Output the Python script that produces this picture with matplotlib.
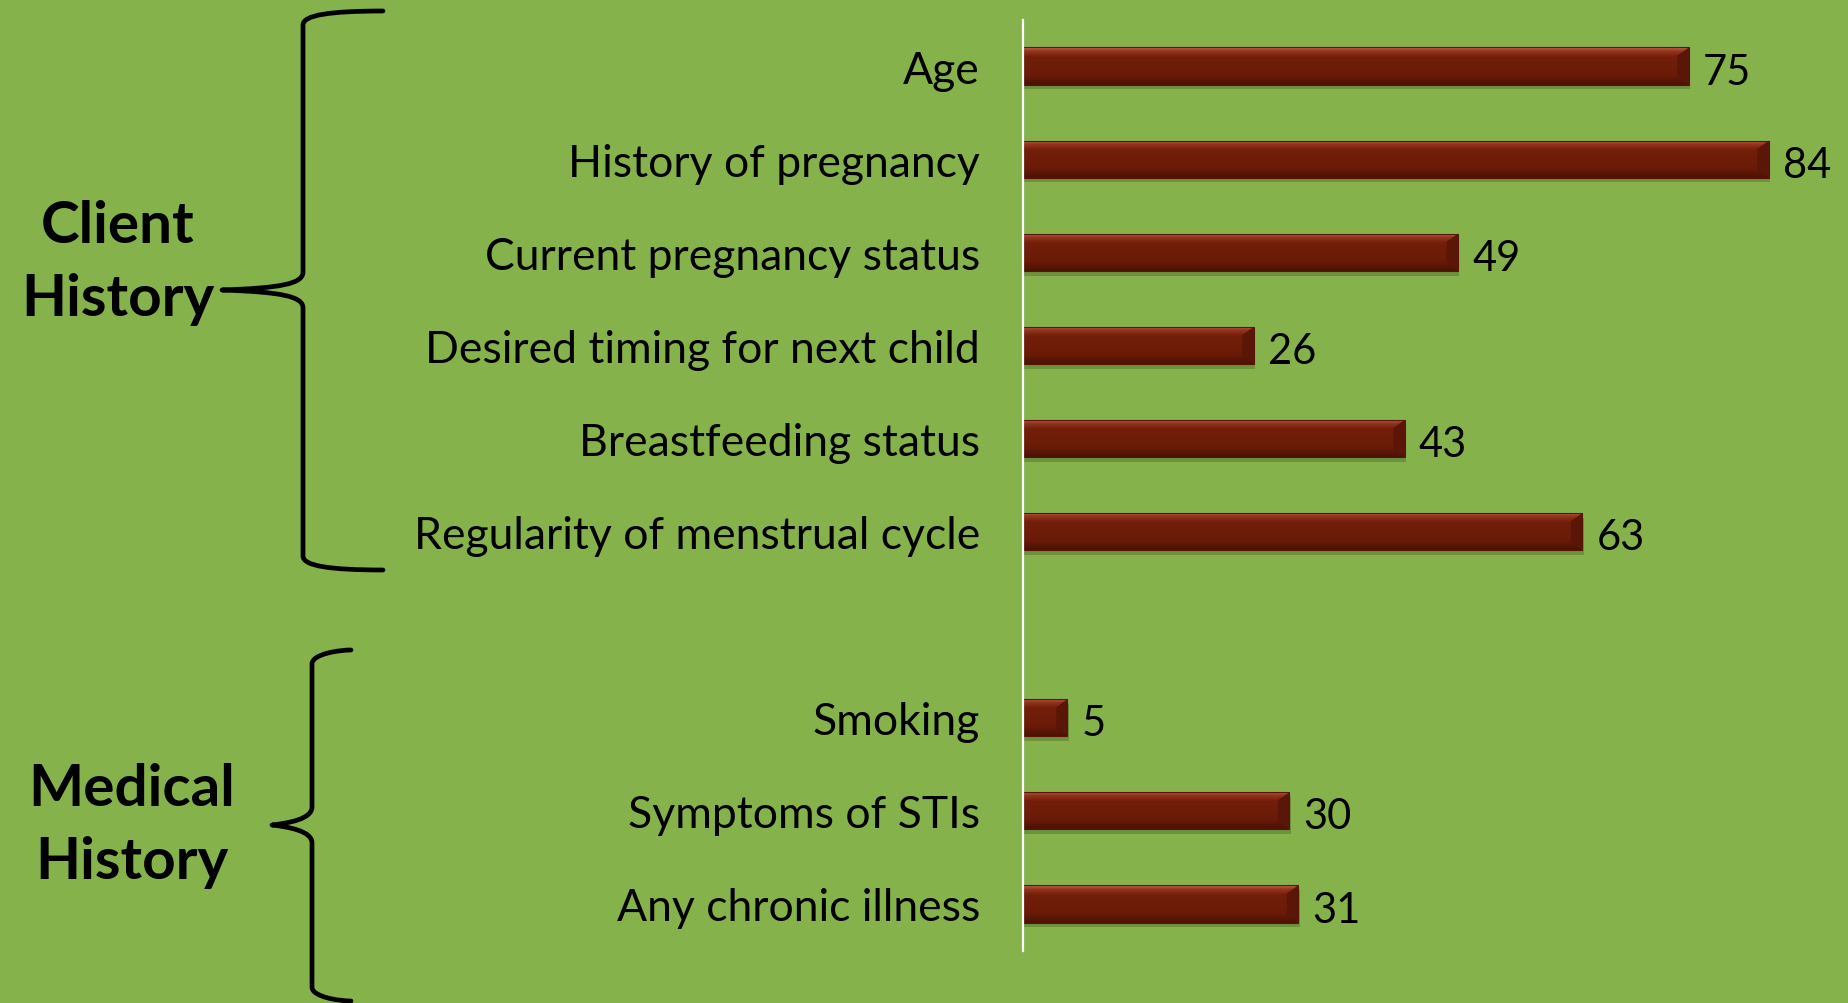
import numpy as np
import matplotlib
matplotlib.use("Agg")
import matplotlib.pyplot as plt
from matplotlib.path import Path
from matplotlib.patches import PathPatch, Polygon, Rectangle
from matplotlib.colors import LinearSegmentedColormap

# ---- data ----
client_labels = ["Age", "History of pregnancy", "Current pregnancy status",
                 "Desired timing for next child", "Breastfeeding status",
                 "Regularity of menstrual cycle"]
client_values = [75, 84, 49, 26, 43, 63]
medical_labels = ["Smoking", "Symptoms of STIs", "Any chronic illness"]
medical_values = [5, 30, 31]
group_titles = ["Client\nHistory", "Medical\nHistory"]

BG = "#86B24C"
BAR = "#6C1D08"
FONT = ["Lato", "DejaVu Sans"]
plt.rcParams['font.family'] = FONT

W, H = 1849, 1004
fig = plt.figure(figsize=(W / 100, H / 100), dpi=100, facecolor=BG)

ax_left, ax_right = 1023, 1849
ax_top, ax_bot = 20.5, 951.5
ax = fig.add_axes([ax_left / W, 1 - ax_bot / H, (ax_right - ax_left) / W, (ax_bot - ax_top) / H])
ax.set_facecolor(BG)

labels = client_labels + [""] + medical_labels
values = client_values + [np.nan] + medical_values
pos = np.arange(len(labels))
mask = ~np.isnan(values)

bh = 0.40
vals = np.array(values, dtype=float)
bars = ax.barh(pos[mask], vals[mask], height=bh, color=BAR, zorder=3)

ax.set_xlim(0, (ax_right - ax_left) / 8.88)
ax.set_ylim(len(labels) - 0.5, -0.5)

# bevel styling
grad_cmap = LinearSegmentedColormap.from_list(
    "bev", [(0.0, "#BE6448"), (0.10, "#963420"), (0.25, "#721F0A"),
            (0.75, "#6A1B07"), (1.0, "#4A1204")])
grad = np.linspace(0, 1, 64).reshape(-1, 1)
for b in bars:
    x0, y0, w, h = b.get_x(), b.get_y(), b.get_width(), b.get_height()
    # shadow
    sh = Rectangle((x0 + 0.15, y0 + 0.05), w, h, color="#3E5A1C", alpha=0.35,
                   zorder=2, lw=0)
    ax.add_patch(sh)
    im = ax.imshow(grad, cmap=grad_cmap, aspect="auto",
                   extent=(x0, x0 + w, y0 + h, y0), zorder=3.5,
                   interpolation="bicubic")
    im.set_clip_path(b)
    # right-end bevel
    e = min(1.3, w * 0.25)
    d = h * 0.22
    poly = Polygon([(x0 + w - e, y0 + d), (x0 + w, y0), (x0 + w, y0 + h),
                    (x0 + w - e, y0 + h - d)], closed=True,
                   facecolor="#5A1606", edgecolor="none", zorder=4)
    ax.add_patch(poly)
    ax.add_patch(Rectangle((x0, y0), w, h, fill=False, edgecolor="#561505",
                           lw=0.8, zorder=4.5))
    ax.annotate(f"{int(w)}", xy=(x0 + w, y0 + h / 2), xytext=(10, -4),
                textcoords="offset points", ha="left", va="center",
                fontsize=30, color="black", zorder=5)

ax.set_yticks(pos[mask])
ax.set_yticklabels([l for l, m in zip(labels, mask) if m], fontsize=32)
ax.tick_params(axis="y", length=0, pad=31)
ax.set_xticks([])
for s in ["top", "right", "bottom"]:
    ax.spines[s].set_visible(False)
ax.spines["left"].set_color("white")
ax.spines["left"].set_linewidth(1.6)
ax.spines["left"].set_zorder(6)


# ---- braces (figure pixel coordinates from top) ----
def brace(xv, xe, xt, y_top, y_mid, y_bot, r=14):
    P = lambda x, y: (x / W, 1 - y / H)
    verts = [P(xe, y_top), P(xv + 27, y_top), P(xv, y_top + 4), P(xv, y_top + r),
             P(xv, y_mid - 18),
             P(xv, y_mid - 6), P(xv - 23, y_mid - 2), P(xt, y_mid),
             P(xv - 23, y_mid + 2), P(xv, y_mid + 6), P(xv, y_mid + 18),
             P(xv, y_bot - r),
             P(xv, y_bot - 4), P(xv + 27, y_bot), P(xe, y_bot)]
    codes = [Path.MOVETO, Path.CURVE4, Path.CURVE4, Path.CURVE4,
             Path.LINETO,
             Path.CURVE4, Path.CURVE4, Path.CURVE4,
             Path.CURVE4, Path.CURVE4, Path.CURVE4,
             Path.LINETO,
             Path.CURVE4, Path.CURVE4, Path.CURVE4]
    fig.patches.append(PathPatch(Path(verts, codes), transform=fig.transFigure,
                                 fill=False, edgecolor="black", lw=3.4,
                                 capstyle="round", joinstyle="round"))


brace(303, 383, 222, 12, 291, 571)
brace(312, 351, 272, 651, 826, 1002)

fig.text(118 / W, 1 - 263 / H, group_titles[0], ha="center", va="center",
         fontsize=42, fontweight="bold", linespacing=1.45)
fig.text(132 / W, 1 - 826 / H, group_titles[1], ha="center", va="center",
         fontsize=42, fontweight="bold", linespacing=1.45)

fig.savefig("out.png", dpi=100, facecolor=BG)
